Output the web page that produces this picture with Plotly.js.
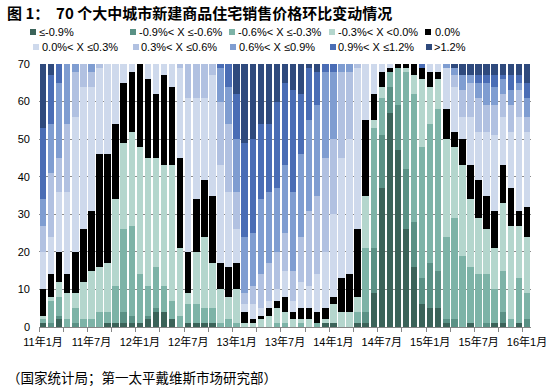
<!DOCTYPE html>
<html><head><meta charset="utf-8">
<script src="https://cdn.plot.ly/plotly-3.0.1.min.js"></script>
<style>html,body{margin:0;padding:0;background:#fff}#chart{width:551px;height:392px}</style>
</head><body><div id="chart"></div>
<script>
// Categories: 2011-01 .. 2016-01 (61 months), plotted at index positions
const monthCount = 61;
const tickIndex = [0, 6, 12, 18, 24, 30, 36, 42, 48, 54, 60];
const tickLabels = ["11年1月","11年7月","12年1月","12年7月","13年1月","13年7月","14年1月","14年7月","15年1月","15年7月","16年1月"];

const seriesNames = ["≤-0.9%","-0.9%< X ≤-0.6%","-0.6%< X ≤-0.3%","-0.3%< X <0.0%","0.0%",
                     "0.0%< X ≤0.3%","0.3%< X ≤0.6%","0.6%< X ≤0.9%","0.9%< X ≤1.2%",">1.2%"];

// number of cities in each band, per month
const le_m09 = [1,0,2,0,0,0,0,0,1,1, 1,1,1,2,4,4,2,0,1,1, 1,1,0,0,0,0,0,0,0,0, 0,0,0,0,0,1,1,0,0,1, 1,9,37,57,47,26,16,6,5,5, 1,0,0,1,0,0,1,1,0,1, 0];
const m09_m06 = [0,1,1,0,1,0,0,0,0,0, 3,2,0,1,1,0,0,0,0,0, 0,0,0,0,0,0,0,0,0,0, 0,0,0,0,0,0,0,0,0,0, 3,12,14,7,12,16,12,7,12,10, 1,2,0,0,0,1,0,3,0,0, 2];
const m06_m03 = [1,6,5,2,4,2,2,4,3,10, 22,24,13,8,11,7,5,3,5,5, 4,4,1,2,1,0,0,0,0,1, 1,0,1,0,1,0,0,0,0,3, 17,32,10,4,10,26,34,35,37,43, 22,27,19,15,14,13,9,11,2,12, 7];
const m03_0 = [1,1,4,7,4,10,13,12,13,23, 23,25,34,34,29,32,36,18,3,14, 19,12,9,6,9,1,1,2,3,4, 3,2,1,2,0,1,5,4,4,4, 14,2,3,0,0,1,5,18,10,8, 26,19,24,18,15,12,11,18,25,14, 15];
const zero = [7,6,8,5,11,14,16,30,29,20, 16,16,22,21,17,24,21,24,11,14, 15,18,7,8,7,3,1,1,2,2, 4,2,3,3,3,3,2,9,10,18, 20,7,4,1,1,1,3,3,4,2, 8,4,7,9,10,9,10,10,10,4, 8];
const p0_p03 = [10,10,16,22,36,38,33,23,24,16, 5,2,0,4,8,3,6,24,41,27, 22,32,26,20,9,2,4,2,2,3, 7,3,7,6,10,15,22,32,36,43, 15,8,2,1,0,0,0,0,2,2, 11,12,6,13,13,17,20,13,15,25, 20];
const p03_p06 = [7,17,9,18,12,6,4,1,0,0, 0,0,0,0,0,0,0,1,9,9, 9,3,17,18,10,3,5,9,10,10, 10,8,12,20,21,25,20,23,18,1, 0,0,0,0,0,0,0,0,0,0, 0,3,7,9,9,7,8,6,7,7, 4];
const p06_p09 = [7,13,20,16,2,0,2,0,0,0, 0,0,0,0,0,0,0,0,0,0, 0,0,9,10,14,15,14,20,19,17, 18,21,22,24,24,23,18,2,2,0, 0,0,0,0,0,0,0,0,0,0, 1,2,4,2,4,6,5,4,4,2, 5];
const p09_p12 = [19,13,5,0,0,0,0,0,0,0, 0,0,0,0,0,0,0,0,0,0, 0,0,1,6,12,25,25,20,18,23, 22,27,16,14,9,2,2,0,0,0, 0,0,0,0,0,0,0,1,0,0, 0,0,0,0,2,2,3,1,4,2, 4];
const gt_p12 = [17,3,0,0,0,0,0,0,0,0, 0,0,0,0,0,0,0,0,0,0, 0,0,0,0,8,21,20,16,16,10, 5,7,8,1,2,0,0,0,0,0, 0,0,0,0,0,0,0,0,0,0, 0,1,3,3,3,3,3,3,3,3, 5];

const seriesValues = [le_m09, m09_m06, m06_m03, m03_0, zero, p0_p03, p03_p06, p06_p09, p09_p12, gt_p12];
const colors = ["#3B6359","#5A9185","#7DB3A7","#B4D6CD","#000000","#CED9EC","#B1C1E1","#7F9DD1","#4A6DB5","#2F4A7D"];

const xIdx = [];
for (let i = 0; i < monthCount; i++) xIdx.push(i);

const FONT = "Liberation Sans, Arial, 'Noto Sans CJK SC', sans-serif";

const traces = seriesValues.map((vals, k) => ({
  type: 'bar', x: xIdx, y: vals, name: seriesNames[k],
  marker: {color: colors[k], line: {width: 0}},
  hoverinfo: 'skip', showlegend: false
}));

// Plot-area geometry (pixels) used to place the key in paper coordinates
const W = 551, H = 392, ML = 39, MR = 20, MT = 64, MB = 65;
const PW = W - ML - MR, PH = H - MT - MB;
const px2x = p => (p - ML) / PW;
const py2y = p => (H - MB - p) / PH;

// Key layout: two rows of five entries (symbol centre x, text start x)
const keySymX = [33, 133, 232, 332, 428, 36, 136, 233, 333, 429];
const keyTextX = [38, 138, 237, 337, 434, 41, 140, 238, 337, 433];
const keyRowY = [32, 32, 32, 32, 32, 47, 47, 47, 47, 47];
const sym = 3;

const shapes = [], annotations = [];
seriesNames.forEach((nm, k) => {
  shapes.push({
    type: 'rect', xref: 'paper', yref: 'paper', layer: 'above',
    x0: px2x(keySymX[k] - sym), x1: px2x(keySymX[k] + sym),
    y0: py2y(keyRowY[k] + sym), y1: py2y(keyRowY[k] - sym),
    fillcolor: colors[k], line: {width: 0}
  });
  annotations.push({
    text: nm, xref: 'paper', yref: 'paper',
    x: px2x(keyTextX[k]), xanchor: 'left', y: py2y(keyRowY[k]), yanchor: 'middle',
    showarrow: false, borderpad: 0,
    font: {family: FONT, size: 11, color: '#000'}
  });
});
annotations.push({
  text: '（国家统计局；第一太平戴维斯市场研究部）',
  xref: 'paper', yref: 'paper', x: px2x(5), xanchor: 'left',
  y: py2y(377), yanchor: 'middle', showarrow: false,
  font: {family: "'Noto Sans CJK SC', sans-serif", size: 13.5, color: '#000'}
});

const layout = {
  width: W, height: H,
  barmode: 'stack', bargap: 0.2,
  margin: {l: ML, r: MR, t: MT, b: MB, pad: 0},
  paper_bgcolor: '#ffffff', plot_bgcolor: '#ffffff',
  font: {family: FONT, size: 11, color: '#000000'},
  title: {
    text: '图 1：\u00a0\u00a070 个大中城市新建商品住宅销售价格环比变动情况',
    font: {family: "'Noto Sans CJK SC', sans-serif", size: 15, weight: 'bold', color: '#000000'},
    xref: 'container', x: 7/551, xanchor: 'left',
    yref: 'container', y: 1 - 14/392, yanchor: 'middle', pad: {t: 0, b: 0, l: 0, r: 0}
  },
  showlegend: false,
  xaxis: {
    type: 'linear', range: [-0.5, 60.5],
    tickmode: 'array', tickvals: tickIndex, ticktext: tickLabels,
    ticks: '', ticklabelstandoff: 5,
    showline: true, linecolor: '#868686', linewidth: 1,
    showgrid: false, zeroline: false,
    minor: {ticks: 'outside', ticklen: 4, tickcolor: '#868686', tickwidth: 1, tickmode: 'linear', tick0: -0.5, dtick: 3, showgrid: false},
    tickfont: {family: FONT, size: 11, color: '#000'},
    fixedrange: true
  },
  yaxis: {
    range: [0, 70], tickmode: 'linear', tick0: 0, dtick: 10,
    showgrid: true, gridcolor: '#8c8c8c', gridwidth: 1,
    zeroline: false, showline: false, ticks: '', ticklabelstandoff: 8,
    tickfont: {family: FONT, size: 11, color: '#000'},
    fixedrange: true
  },
  shapes: shapes,
  annotations: annotations
};

Plotly.newPlot('chart', traces, layout, {displayModeBar: false, staticPlot: true});
</script>
</body></html>
